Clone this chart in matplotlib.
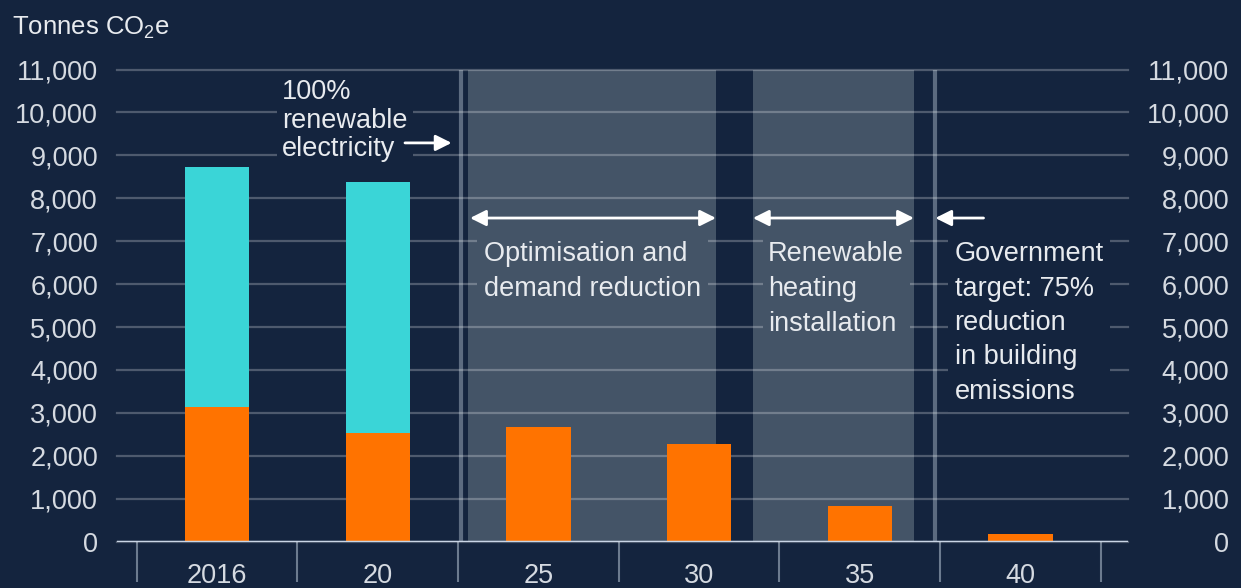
import matplotlib
matplotlib.use('Agg')
import matplotlib.pyplot as plt

plt.rcParams['font.family'] = ['Liberation Sans', 'DejaVu Sans']
plt.rcParams['mathtext.fontset'] = 'custom'
plt.rcParams['mathtext.rm'] = 'Liberation Sans'

# data (tonnes CO2e)
years = ['2016', '20', '25', '30', '35', '40']
direct = [3130, 2530, 2680, 2270, 820, 170]
electricity = [5600, 5850, 0, 0, 0, 0]
yticks = list(range(0, 11001, 1000))

BG = '#14243e'
BAND = '#445467'
ORANGE = '#ff7300'
CYAN = '#3ad5d7'
TXT = '#e8ebef'
TICK = '#d5dae1'
FS = 19.5

fig = plt.figure(figsize=(12.41, 5.88), dpi=100, facecolor=BG)
ax = fig.add_axes([117 / 1241, 1 - 541.7 / 588, 1011 / 1241, 472.2 / 588])
ax.set_facecolor(BG)
x = list(range(len(years)))

ax.bar(x, direct, width=0.4, color=ORANGE, zorder=2)
ax.bar(x, electricity, width=0.4, bottom=direct, color=CYAN, zorder=2)

ax.set_xlim(-0.622, 5.669)
ax.set_ylim(0, 11000)

# shaded phases and divider lines
ax.axvspan(1.562, 3.105, color=BAND, zorder=0.2, lw=0)
ax.axvspan(3.335, 4.337, color=BAND, zorder=0.2, lw=0)
for xv in (1.521, 4.465):
    ax.axvline(xv, ymin=0, ymax=1, color='#5c6b80', lw=3, zorder=0.3)

ax.set_yticks(yticks)
ax.yaxis.grid(True, color='white', alpha=0.25, lw=1.6)
ax.set_axisbelow(True)
for gl in ax.get_ygridlines():
    gl.set_clip_on(False)
ax.axhline(0, color='#c9d5e6', lw=2.5, zorder=4)

for s in ax.spines.values():
    s.set_visible(False)

ax.set_yticklabels([f'{v:,}' for v in yticks])
ax.tick_params(axis='y', length=0, pad=13.7, labelsize=FS, labelcolor=TICK)

ax2 = ax.twinx()
ax2.set_ylim(0, 11000)
ax2.set_yticks(yticks)
ax2.set_yticklabels([f'{v:,}' for v in yticks])
ax2.tick_params(axis='y', length=0, pad=73, labelsize=FS, labelcolor=TICK)
for lab in ax2.get_yticklabels():
    lab.set_horizontalalignment('right')
for s in ax2.spines.values():
    s.set_visible(False)

ax.set_xticks(x)
ax.set_xticklabels(years)
ax.set_xticks([i - 0.5 for i in range(len(years) + 1)], minor=True)
ax.tick_params(axis='x', which='major', length=0, pad=15.5, labelsize=FS, labelcolor=TICK)
ax.tick_params(axis='x', which='minor', length=29, width=1.5, color='#6c7b8f')

ax.text(0.405, 10780, '100%\nrenewable\nelectricity', color=TXT, fontsize=FS,
        va='top', ha='left', linespacing=1.13, zorder=3,
        bbox=dict(boxstyle='square,pad=0.2', fc=BG, ec='none'))
ax.text(1.662, 7000, 'Optimisation and\ndemand reduction', color=TXT, fontsize=FS,
        va='top', ha='left', linespacing=1.44, zorder=3,
        bbox=dict(boxstyle='square,pad=0.25', fc=BAND, ec='none'))
ax.text(3.43, 7000, 'Renewable\nheating\ninstallation', color=TXT, fontsize=FS,
        va='top', ha='left', linespacing=1.44, zorder=3,
        bbox=dict(boxstyle='square,pad=0.2', fc=BAND, ec='none'))
ax.text(4.59, 7000, 'Government\ntarget: 75%\nreduction\nin building\nemissions', color=TXT,
        fontsize=FS, va='top', ha='left', linespacing=1.42, zorder=3,
        bbox=dict(boxstyle='square,pad=0.25', fc=BG, ec='none'))

arrow = dict(color='white', lw=2, mutation_scale=24, shrinkA=0, shrinkB=0)
ax.annotate('', xy=(1.46, 9290), xytext=(1.17, 9290),
            arrowprops=dict(arrowstyle='-|>', **arrow), zorder=5)
ax.annotate('', xy=(3.105, 7540), xytext=(1.575, 7540),
            arrowprops=dict(arrowstyle='<|-|>', **arrow), zorder=5)
ax.annotate('', xy=(4.337, 7540), xytext=(3.335, 7540),
            arrowprops=dict(arrowstyle='<|-|>', **arrow), zorder=5)
ax.annotate('', xy=(4.47, 7540), xytext=(4.77, 7540),
            arrowprops=dict(arrowstyle='-|>', **arrow), zorder=5)

fig.text(12 / 1241, 1 - 28 / 588, r'Tonnes CO$_2$e', color=TXT, fontsize=18.5, va='center', ha='left')

fig.savefig('out.png', dpi=100, facecolor=BG)
